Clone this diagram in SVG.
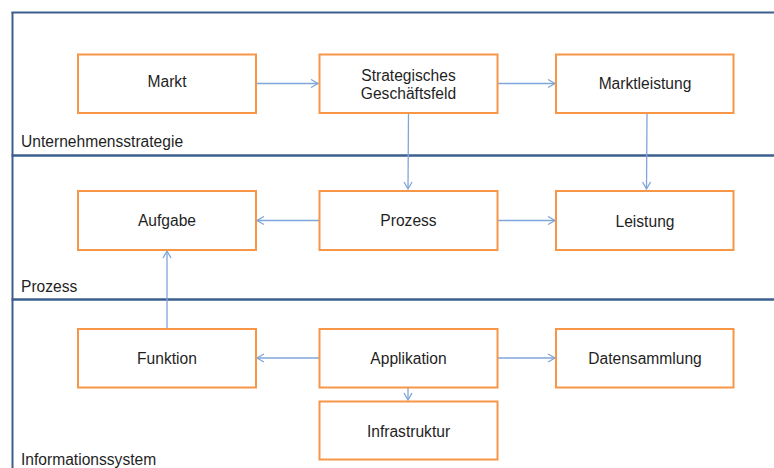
<svg xmlns="http://www.w3.org/2000/svg" width="774" height="468" viewBox="0 0 774 468">
<style>
.box{fill:#fff;stroke:#F79646;stroke-width:2}
.t{font-family:"Liberation Sans",Arial,sans-serif;font-size:15.6px;fill:#1f1f1f;text-anchor:middle}
.lbl{font-family:"Liberation Sans",Arial,sans-serif;font-size:15.6px;fill:#1f1f1f}
.frame{stroke:#3D5F8E;fill:none}
.c{stroke:#7FA6D8;stroke-width:1.3;fill:none;marker-end:url(#ah)}
</style>
<defs>
<marker id="ah" markerWidth="10" markerHeight="10" refX="8" refY="5" orient="auto" markerUnits="userSpaceOnUse">
<path d="M1,1 L8,5 L1,9" fill="none" stroke="#7FA6D8" stroke-width="1.3"/>
</marker>
</defs>
<rect width="774" height="468" fill="#fff"/>
<g id="frame">
<line class="frame" x1="12.5" y1="12" x2="12.5" y2="468" stroke-width="2"/>
<line class="frame" x1="11.5" y1="12.5" x2="774" y2="12.5" stroke-width="2"/>
<line class="frame" x1="11.5" y1="155.5" x2="774" y2="155.5" stroke-width="2.5"/>
<line class="frame" x1="11.5" y1="299.5" x2="774" y2="299.5" stroke-width="2.5"/>
<text class="lbl" x="21" y="147">Unternehmensstrategie</text>
<text class="lbl" x="21" y="292">Prozess</text>
<text class="lbl" x="21" y="465">Informationssystem</text>
</g>
<g id="connectors">
<line class="c" x1="256" y1="83.5" x2="318" y2="83.5"/>
<line class="c" x1="497" y1="83.5" x2="555" y2="83.5"/>
<line class="c" x1="408.5" y1="113" x2="408" y2="189"/>
<line class="c" x1="647" y1="113" x2="646.5" y2="189"/>
<line class="c" x1="319" y1="220.5" x2="257" y2="220.5"/>
<line class="c" x1="497" y1="220.5" x2="555" y2="220.5"/>
<line class="c" x1="167" y1="329" x2="167" y2="251"/>
<line class="c" x1="319" y1="358" x2="257" y2="358"/>
<line class="c" x1="497" y1="358" x2="555" y2="358"/>
<line class="c" x1="408" y1="388" x2="408" y2="400"/>
</g>
<g id="markt"><rect class="box" x="78" y="54.5" width="178" height="58.5"/><text class="t" x="167" y="87">Markt</text></g>
<g id="sgf"><rect class="box" x="319.5" y="54.5" width="178" height="58.5"/><text class="t" x="408.5" y="80.5">Strategisches</text><text class="t" x="408.5" y="99">Geschäftsfeld</text></g>
<g id="marktleistung"><rect class="box" x="556" y="54.5" width="177.5" height="58.5"/><text class="t" x="645" y="89">Marktleistung</text></g>
<g id="aufgabe"><rect class="box" x="78" y="191" width="178" height="59"/><text class="t" x="167" y="226">Aufgabe</text></g>
<g id="prozess"><rect class="box" x="319.5" y="191" width="178" height="59"/><text class="t" x="408.5" y="226">Prozess</text></g>
<g id="leistung"><rect class="box" x="556" y="191" width="177.5" height="59"/><text class="t" x="645" y="227">Leistung</text></g>
<g id="funktion"><rect class="box" x="78" y="329" width="178" height="58.5"/><text class="t" x="167" y="364">Funktion</text></g>
<g id="applikation"><rect class="box" x="319.5" y="329" width="178" height="58.5"/><text class="t" x="408.5" y="364">Applikation</text></g>
<g id="datensammlung"><rect class="box" x="556" y="329" width="177.5" height="58.5"/><text class="t" x="645" y="364">Datensammlung</text></g>
<g id="infrastruktur"><rect class="box" x="319.5" y="401.5" width="178" height="58"/><text class="t" x="408.5" y="437">Infrastruktur</text></g>
</svg>
